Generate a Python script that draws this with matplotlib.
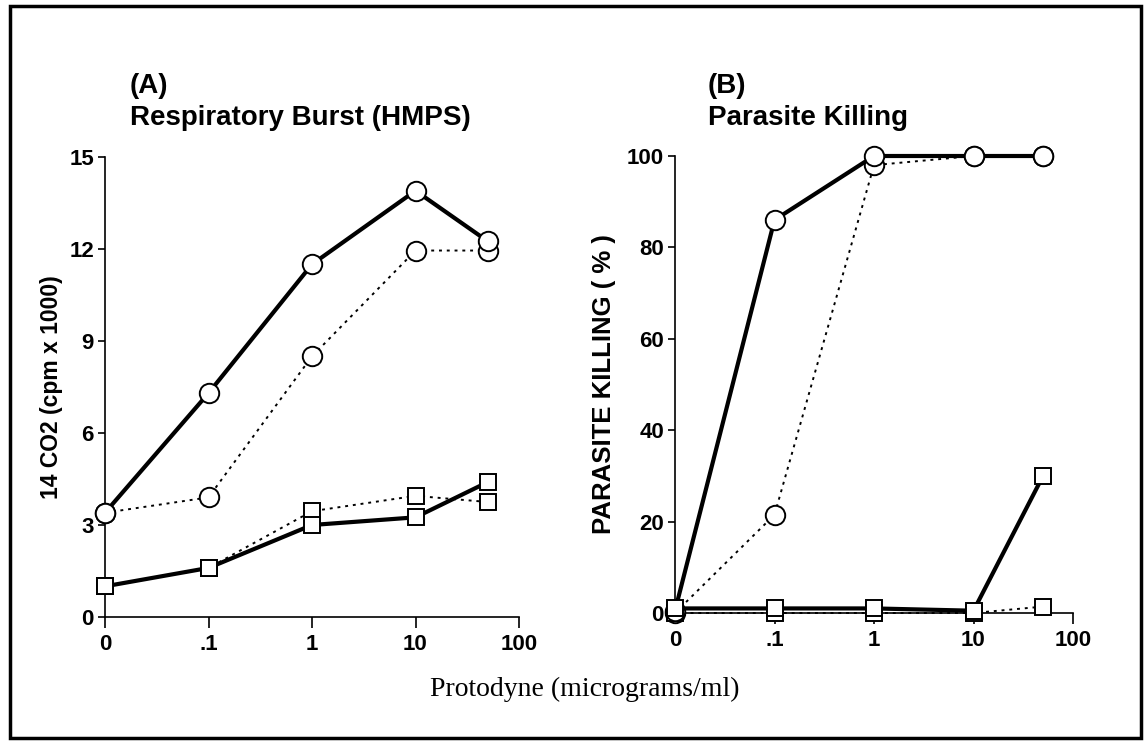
import numpy as np
import matplotlib
matplotlib.use('Agg')
import matplotlib.pyplot as plt
from matplotlib.patches import Rectangle

# doses (micrograms/ml) and tick labels
doses = [0, 0.1, 1, 10, 50]
tick_pos = [0, 1, 2, 3, 4]
tick_labels = ['0', '.1', '1', '10', '100']

# panel A: respiratory burst, 14CO2 (cpm x 1000)
burst_circle_solid = [3.4, 7.3, 11.5, 13.9, 12.25]
burst_circle_dotted = [3.4, 3.9, 8.5, 11.95, 11.95]
burst_square_solid = [1.0, 1.6, 3.0, 3.25, 4.4]
burst_square_dotted = [1.0, 1.6, 3.45, 3.95, 3.75]

# panel B: parasite killing (%)
kill_circle_solid = [0.5, 86, 100, 100, 100]
kill_circle_dotted = [0, 21.5, 98, 100, 100]
kill_square_solid = [1, 1, 1, 0.5, 30]
kill_square_dotted = [0, 0, 0, 0, 1.4]


def dose_to_pos(d):
    # 0 sits at the first tick, then one tick per decade starting at .1
    d = np.asarray(d, dtype=float)
    out = np.zeros_like(d)
    nz = d > 0
    out[nz] = np.log10(d[nz] / 0.1) + 1
    return out


plt.rcParams['font.family'] = 'Liberation Sans'
fig = plt.figure(figsize=(11.46, 7.41), dpi=100)
W, H = 1146.0, 741.0

solid = dict(color='black', lw=3.0, solid_joinstyle='miter')
dotted = dict(color='black', lw=1.4, linestyle=(0, (1.5, 2.5)))


def draw_series(ax, ys, marker, ms, style, z):
    ax.plot(dose_to_pos(doses), ys, marker=marker, ms=ms, mfc='white',
            mec='black', mew=1.4, zorder=z, clip_on=False, **style)


def style_axes(ax, ylim, yticks):
    ax.set_xlim(0, 4)
    ax.set_ylim(*ylim)
    ax.set_xticks(tick_pos)
    ax.set_xticklabels(tick_labels)
    ax.set_yticks(yticks)
    for s in ['top', 'right']:
        ax.spines[s].set_visible(False)
    for s in ['left', 'bottom']:
        ax.spines[s].set_linewidth(1.2)
    ax.tick_params(axis='both', direction='out', width=1.2, labelsize=16)
    ax.tick_params(axis='y', length=5, pad=3)
    ax.tick_params(axis='x', length=8, pad=4)
    for lab in ax.get_xticklabels() + ax.get_yticklabels():
        lab.set_fontweight('bold')


# panel A
axA = fig.add_axes([105 / W, 1 - 617 / H, 414 / W, 460 / H])
draw_series(axA, burst_circle_dotted, 'o', 14, dotted, 3)
draw_series(axA, burst_square_dotted, 's', 12, dotted, 3)
draw_series(axA, burst_circle_solid, 'o', 14, solid, 4)
draw_series(axA, burst_square_solid, 's', 12, solid, 4)
style_axes(axA, (0, 15), [0, 3, 6, 9, 12, 15])
axA.set_ylabel('14 CO2 (cpm x 1000)', fontsize=16.5, fontweight='bold')
axA.yaxis.set_label_coords((63 - 105) / 414, 0.5)

# panel B
axB = fig.add_axes([675 / W, 1 - 613 / H, 398 / W, 457 / H])
draw_series(axB, kill_circle_dotted, 'o', 14, dotted, 3)
draw_series(axB, kill_square_dotted, 's', 12, dotted, 3)
draw_series(axB, kill_circle_solid, 'o', 14, solid, 4)
draw_series(axB, kill_square_solid, 's', 12, solid, 4)
style_axes(axB, (0, 100), [0, 20, 40, 60, 80, 100])
axB.set_ylabel('PARASITE KILLING ( % )', fontsize=18.5, fontweight='bold')
axB.yaxis.set_label_coords((616 - 675) / 398, 0.5)

# panel titles
for x0, tag, name in [(130, '(A)', 'Respiratory Burst (HMPS)'),
                      (708, '(B)', 'Parasite Killing')]:
    fig.text(x0 / W, 1 - 93 / H, tag, fontsize=20, fontweight='bold', va='baseline')
    fig.text(x0 / W, 1 - 125 / H, name, fontsize=20, fontweight='bold', va='baseline')

# shared x label
fig.text(585 / W, 1 - 696 / H, 'Protodyne (micrograms/ml)', fontsize=20,
         family='Liberation Serif', ha='center', va='baseline')

# frame around the whole figure
fig.patches.append(Rectangle((10 / W, 3 / H), 1131 / W, 732 / H,
                             transform=fig.transFigure, fill=False,
                             edgecolor='black', lw=2.5))

fig.savefig('out.png', dpi=100)
